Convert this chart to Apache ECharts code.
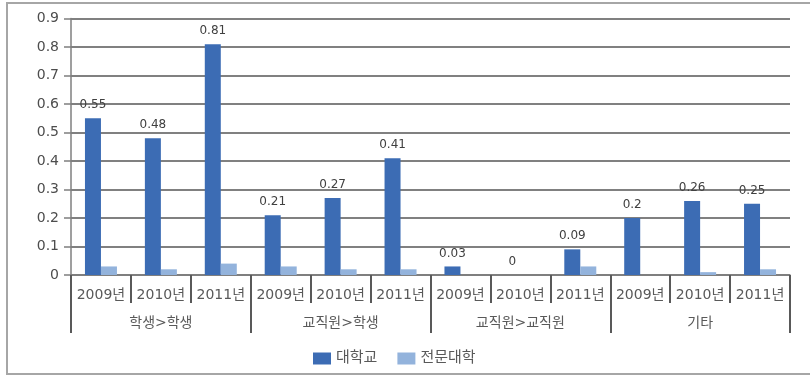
<!DOCTYPE html>
<html>
<head>
<meta charset="utf-8">
<script src="https://cdn.jsdelivr.net/npm/echarts@6/dist/echarts.min.js"></script>
<style>
html,body{margin:0;padding:0;background:#fff;}
#main{width:810px;height:376px;}
</style>
</head>
<body>
<div id="main"></div>
<script>
const years = ['2009년','2010년','2011년','2009년','2010년','2011년','2009년','2010년','2011년','2009년','2010년','2011년'];
const groups = ['학생>학생','교직원>학생','교직원>교직원','기타'];
const seriesNames = ['대학교','전문대학'];
const university = [0.55,0.48,0.81,0.21,0.27,0.41,0.03,0,0.09,0.2,0.26,0.25];
const college = [0.03,0.02,0.04,0.03,0.02,0.02,0,0,0.03,0,0.01,0.02];

const FONT = '"DejaVu Sans","Noto Sans CJK KR",sans-serif';
const chart = echarts.init(document.getElementById('main'));
chart.setOption({
  animation:false,
  backgroundColor:'#fff',
  textStyle:{fontFamily:FONT},
  graphic:[{type:'rect',shape:{x:7,y:3,width:812,height:371},style:{fill:'none',stroke:'#a6a6a6',lineWidth:2},silent:true}],
  grid:{left:71,right:20,top:18.5,bottom:101,containLabel:false},
  legend:{
    data:seriesNames,top:346,left:308,itemWidth:18,itemHeight:12,itemGap:20,
    icon:'rect',textStyle:{fontSize:15,color:'#595959',fontFamily:FONT}
  },
  xAxis:[{
    type:'category',data:years,position:'bottom',
    axisLine:{show:true,lineStyle:{color:'#7f7f7f',width:1.5}},
    axisTick:{show:true,length:28,interval:0,lineStyle:{color:'#595959',width:2}},
    axisLabel:{interval:0,margin:13,fontSize:14,color:'#595959',fontFamily:FONT}
  },{
    type:'category',data:groups,position:'bottom',
    axisLine:{show:false},
    axisTick:{show:true,length:58,interval:0,lineStyle:{color:'#595959',width:2}},
    axisLabel:{interval:0,margin:41,fontSize:14,color:'#595959',fontFamily:FONT}
  }],
  yAxis:{
    type:'value',min:0,max:0.9,interval:0.1,
    axisLine:{show:true,lineStyle:{color:'#7f7f7f',width:1.5}},
    axisTick:{show:true,length:7,lineStyle:{color:'#7f7f7f',width:1.5}},
    axisLabel:{margin:12,fontSize:14,color:'#4d4d4d',fontFamily:FONT,
      formatter:v=>String(Math.round(v*10)/10)},
    splitLine:{show:true,lineStyle:{color:'#808080',width:1.8}}
  },
  series:[{
    name:seriesNames[0],type:'bar',data:university,xAxisIndex:0,barWidth:16,barGap:'0%',
    itemStyle:{color:'#3c6cb4'},
    label:{show:true,position:'top',distance:7,fontSize:12,color:'#404040',fontFamily:FONT}
  },{
    name:seriesNames[1],type:'bar',data:college,xAxisIndex:0,barWidth:16,barGap:'0%',
    itemStyle:{color:'#93b3dc'}
  }]
});
</script>
</body>
</html>
